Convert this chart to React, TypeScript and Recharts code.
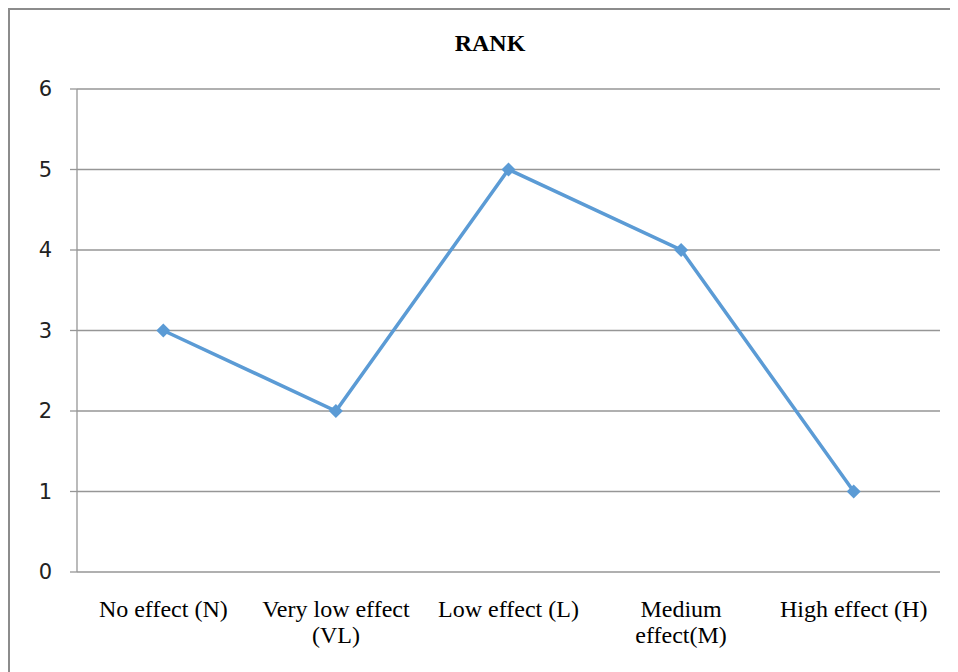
import React from "react";
import { LineChart, Line, XAxis, YAxis, CartesianGrid } from "recharts";

const categories = [
  "No effect (N)",
  "Very low effect (VL)",
  "Low effect (L)",
  "Medium effect(M)",
  "High effect (H)",
];
const rankValues = [3, 2, 5, 4, 1];
const yTicks = [0, 1, 2, 3, 4, 5, 6];
const edgeTicks = [0, 1, 2, 3, 4, 5];

// label line breaks as in the original
const labelLines: Record<string, string[]> = {
  "Very low effect (VL)": ["Very low effect", "(VL)"],
  "Medium effect(M)": ["Medium", "effect(M)"],
};

const data = categories.map((name, i) => ({ name, rank: rankValues[i] }));

const serif = "'Liberation Serif', 'Times New Roman', serif";

function CategoryTick(props: any) {
  const { x, y, payload } = props;
  const lines = labelLines[payload.value] || [payload.value];
  return (
    <text
      x={x}
      y={y}
      textAnchor="middle"
      fill="#000"
      style={{ fontFamily: serif, fontSize: 24 }}
    >
      {lines.map((l, i) => (
        <tspan key={i} x={x} dy={i === 0 ? 37 : 26}>
          {l}
        </tspan>
      ))}
    </text>
  );
}

function Diamond(props: any) {
  const { cx, cy } = props;
  if (cx == null || cy == null) return null;
  const r = 7;
  return (
    <polygon
      points={`${cx},${cy - r} ${cx + r},${cy} ${cx},${cy + r} ${cx - r},${cy}`}
      fill="#5B9BD5"
    />
  );
}

export default function App() {
  return (
    <div
      style={{
        position: "relative",
        width: 950,
        height: 664,
        boxSizing: "border-box",
        borderTop: "2px solid #8c8c8c",
        borderLeft: "2px solid #8c8c8c",
        background: "#fff",
        overflow: "hidden",
      }}
    >
      <div
        style={{
          position: "absolute",
          left: 0,
          top: 20,
          width: 960,
          textAlign: "center",
          fontFamily: serif,
          fontWeight: "bold",
          fontSize: 24,
          color: "#000",
        }}
      >
        RANK
      </div>
      <LineChart
        width={940}
        height={660}
        data={data}
        margin={{ top: 79, right: 10, left: 7, bottom: 28 }}
      >
        <CartesianGrid vertical={false} stroke="#969696" strokeWidth={1.3} />
        <XAxis
          xAxisId="edges"
          type="number"
          domain={[0, 5]}
          ticks={edgeTicks}
          height={0}
          tick={false}
          tickSize={6}
          axisLine={{ stroke: "#969696", strokeWidth: 1.3 }}
          tickLine={{ stroke: "#969696", strokeWidth: 1.3 }}
        />
        <XAxis
          xAxisId="cat"
          dataKey="name"
          scale="band"
          height={70}
          axisLine={false}
          tickLine={false}
          interval={0}
          tick={<CategoryTick />}
        />
        <YAxis
          domain={[0, 6]}
          ticks={yTicks}
          width={60}
          tickSize={7}
          tickMargin={18}
          axisLine={{ stroke: "#969696", strokeWidth: 1.3 }}
          tickLine={{ stroke: "#969696", strokeWidth: 1.3 }}
          tick={{ fill: "#222", fontSize: 21, fontFamily: "'DejaVu Sans', sans-serif" }}
        />
        <Line
          xAxisId="cat"
          dataKey="rank"
          stroke="#5B9BD5"
          strokeWidth={3.5}
          dot={<Diamond />}
          activeDot={false}
          isAnimationActive={false}
        />
      </LineChart>
    </div>
  );
}
